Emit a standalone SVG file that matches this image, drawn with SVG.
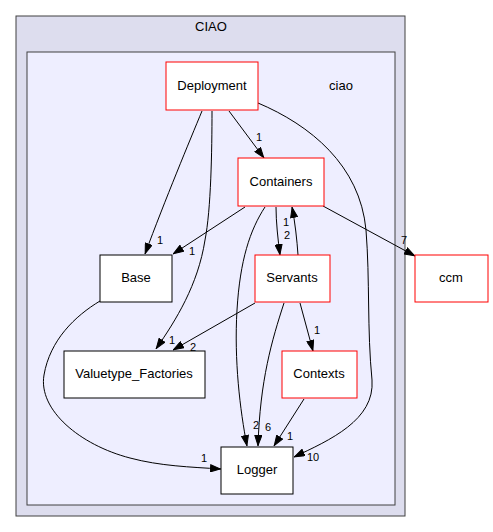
<svg xmlns="http://www.w3.org/2000/svg" width="493" height="532" viewBox="0 0 493 532">
<style>
text{font-family:"Liberation Sans",Arial,sans-serif;fill:#000000}
.n{font-size:13px;text-anchor:middle}
.l{font-size:11px;text-anchor:middle;fill:#000000}
.box{fill:#fff;stroke-width:1}
.red{stroke:#ff0000}
.blk{stroke:#000}
.e{fill:none;stroke:#000;stroke-width:1;marker-end:url(#ah)}
</style>
<defs>
<marker id="ah" viewBox="0 0 11 8" refX="11" refY="4" markerWidth="11" markerHeight="8" markerUnits="userSpaceOnUse" orient="auto">
<path d="M0.5,0.5 L10.5,4 L0.5,7.5 Z" fill="#000" stroke="#000" stroke-width="1"/>
</marker>
</defs>
<rect width="493" height="532" fill="#fff"/>
<g id="cluster_CIAO">
<rect x="16" y="16" width="389" height="500" fill="#ddddee" stroke="#404040" stroke-width="1"/>
<text class="n" x="211" y="31">CIAO</text>
</g>
<g id="cluster_ciao">
<rect x="27" y="52" width="368" height="453" fill="#eeeeff" stroke="#404040" stroke-width="1"/>
<text class="n" x="341" y="90">ciao</text>
</g>
<g id="connectors">
<path class="e" d="M202,111 C190,140 165,200 145,254"/>
<text class="l" x="160" y="244">1</text>
<path class="e" d="M212,111 C212,150 211,210 205,240 C198,285 176,320 156,349"/>
<text class="l" x="172" y="344">1</text>
<path class="e" d="M229,111 L264,158"/>
<text class="l" x="259" y="141">1</text>
<path class="e" d="M258,103 C310,125 360,165 366,230 C370,280 367,330 372,380 C375,420 330,440 294,457"/>
<text class="l" x="313" y="461">10</text>
<path class="e" d="M245,207 L173,254"/>
<text class="l" x="192" y="255">1</text>
<path class="e" d="M265,207 C250,230 240,260 237,310 C234,360 240,410 247,446"/>
<text class="l" x="256" y="429">2</text>
<path class="e" d="M276,207 C276,222 278,240 280,255"/>
<text class="l" x="287" y="239">2</text>
<path class="e" d="M298,255 C297,240 295,222 292,207"/>
<text class="l" x="286" y="226">1</text>
<path class="e" d="M323,206 L415,256"/>
<text class="l" x="404" y="244">7</text>
<path class="e" d="M255,303 L173,350"/>
<text class="l" x="193" y="351">2</text>
<path class="e" d="M284,303 C272,340 260,380 258,446"/>
<text class="l" x="268" y="431">6</text>
<path class="e" d="M300,303 L313,351"/>
<text class="l" x="317" y="334">1</text>
<path class="e" d="M304,399 L274,446"/>
<text class="l" x="290" y="440">1</text>
<path class="e" d="M100,301 C75,316 50,340 44,375 C38,410 80,445 130,458 C160,466 190,467 221,469"/>
<text class="l" x="204" y="462">1</text>
</g>
<g id="node_Deployment">
<rect class="box red" x="166" y="62" width="92" height="48"/>
<text class="n" x="212" y="90">Deployment</text>
</g>
<g id="node_Containers">
<rect class="box red" x="238" y="158" width="86" height="48"/>
<text class="n" x="281" y="186">Containers</text>
</g>
<g id="node_Base">
<rect class="box blk" x="100" y="255" width="72" height="47"/>
<text class="n" x="136" y="282">Base</text>
</g>
<g id="node_Servants">
<rect class="box red" x="255" y="255" width="75" height="47"/>
<text class="n" x="292" y="282">Servants</text>
</g>
<g id="node_ccm">
<rect class="box red" x="415" y="255" width="73" height="47"/>
<text class="n" x="451" y="282">ccm</text>
</g>
<g id="node_Valuetype_Factories">
<rect class="box blk" x="64" y="351" width="141" height="47"/>
<text class="n" x="134" y="378">Valuetype_Factories</text>
</g>
<g id="node_Contexts">
<rect class="box red" x="282" y="351" width="75" height="47"/>
<text class="n" x="319" y="378">Contexts</text>
</g>
<g id="node_Logger">
<rect class="box blk" x="221" y="447" width="72" height="47"/>
<text class="n" x="257" y="474">Logger</text>
</g>
</svg>
